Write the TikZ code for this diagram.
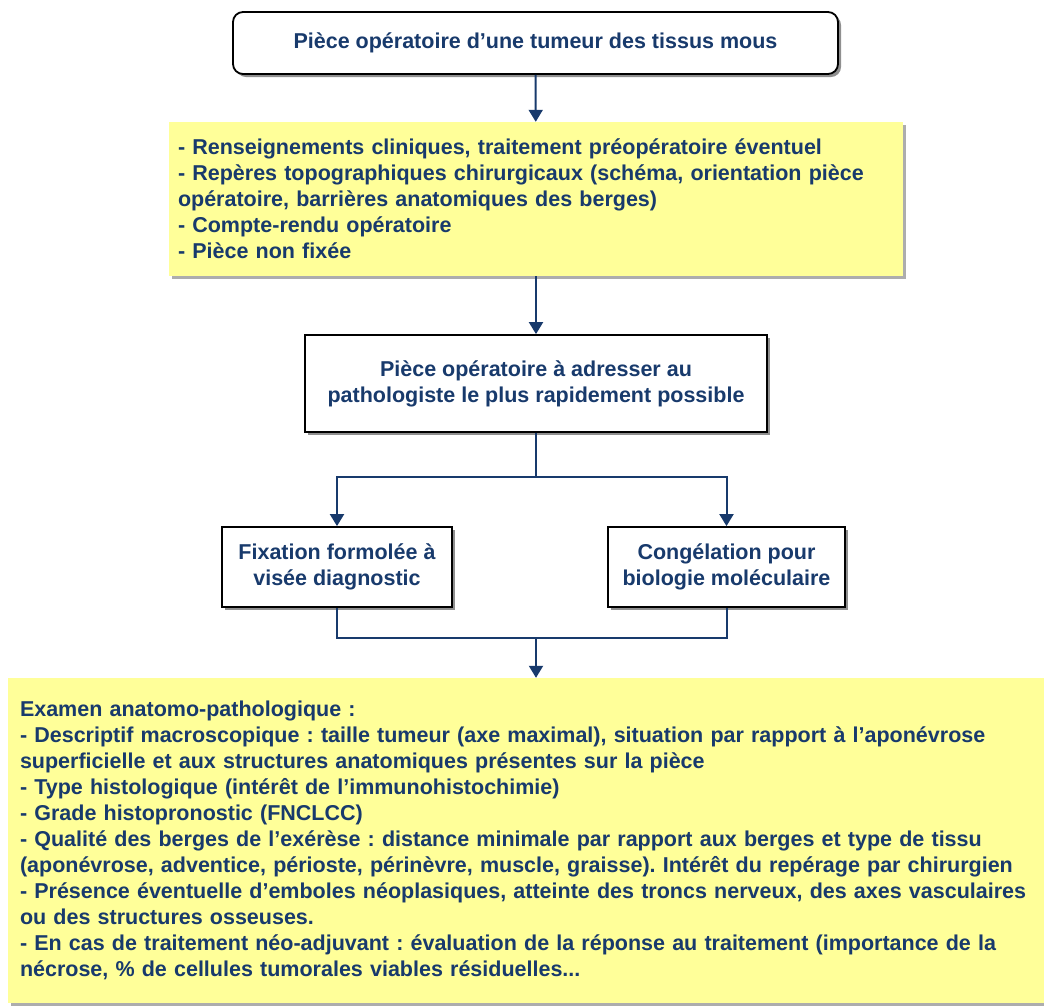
\documentclass[tikz,border=0pt]{standalone}
\usepackage{fontspec}
\setmainfont{Liberation Sans}
\usetikzlibrary{arrows.meta,shadows}
\definecolor{navy}{RGB}{24,58,108}
\definecolor{notefill}{RGB}{255,255,153}
\frenchspacing
\begin{document}
\begin{tikzpicture}[x=1pt,y=1pt,
    font=\fontsize{21.5}{26}\selectfont\bfseries,
    every node/.style={text=navy, inner sep=0pt},
    whitebox/.style={rectangle, draw=black, line width=1.8pt, fill=white, align=center,
        drop shadow={shadow xshift=3pt, shadow yshift=-3pt, fill=black!55, opacity=0.8}},
    notebox/.style={rectangle, fill=notefill, align=left,
        drop shadow={shadow xshift=3pt, shadow yshift=-3pt, fill=black!40, opacity=0.8}},
    flow/.style={draw=navy, line width=2pt, -{Triangle[width=14pt,length=12pt]}},
    link/.style={draw=navy, line width=2pt}]
    \useasboundingbox (0,0) rectangle (1044,-1005);
        \node[whitebox, rounded corners=10pt, minimum width=605pt, minimum height=62pt] (piece) at (535.5,-43) {Pièce opératoire d’une tumeur des tissus mous};
        \node[notebox, inner xsep=9pt, text width=716pt, minimum height=154pt] (infos) at (536,-199) {- Renseignements cliniques, traitement préopératoire éventuel\\
            - Repères topographiques chirurgicaux (schéma, orientation pièce\\
            opératoire, barrières anatomiques des berges)\\
            - Compte-rendu opératoire\\
            - Pièce non fixée};
        \draw[flow] (piece) to (infos);
        \node[whitebox, minimum width=462pt, minimum height=97pt] (adresse) at (536,-383.5) {Pièce opératoire à adresser au\\pathologiste le plus rapidement possible};
        \draw[flow] (infos) to (adresse);
        \coordinate (split) at (536,-477);
        \node[whitebox, minimum width=230pt, minimum height=80pt] (fixation) at (337,-567) {Fixation formolée à\\visée diagnostic};
        \node[whitebox, minimum width=237pt, minimum height=80pt] (congel) at (726.5,-567) {Congélation pour\\biologie moléculaire};
        \draw[link] (adresse.south) to (split);
        \draw[flow] (split) -| (fixation.north);
        \draw[flow] (split) -| (congel.north);
        \coordinate (merge) at (536,-638);
        \node[notebox, inner xsep=12pt, text width=1012pt, minimum height=325pt] (examen) at (526,-840.5) {Examen anatomo-pathologique :\\
            - Descriptif macroscopique : taille tumeur (axe maximal), situation par rapport à l’aponévrose\\
            superficielle et aux structures anatomiques présentes sur la pièce\\
            - Type histologique (intérêt de l’immunohistochimie)\\
            - Grade histopronostic (FNCLCC)\\
            - Qualité des berges de l'exérèse : distance minimale par rapport aux berges et type de tissu\\
            (aponévrose, adventice, périoste, périnèvre, muscle, graisse). Intérêt du repérage par chirurgien\\
            - Présence éventuelle d’emboles néoplasiques, atteinte des troncs nerveux, des axes vasculaires\\
            ou des structures osseuses.\\
            - En cas de traitement néo-adjuvant : évaluation de la réponse au traitement (importance de la\\
            nécrose, \% de cellules tumorales viables résiduelles...};
        \draw[link] (fixation.south) |- (merge);
        \draw[link] (congel.south) |- (merge);
        \draw[flow] (merge) to (merge |- examen.north);
    \end{tikzpicture}
\end{document}
